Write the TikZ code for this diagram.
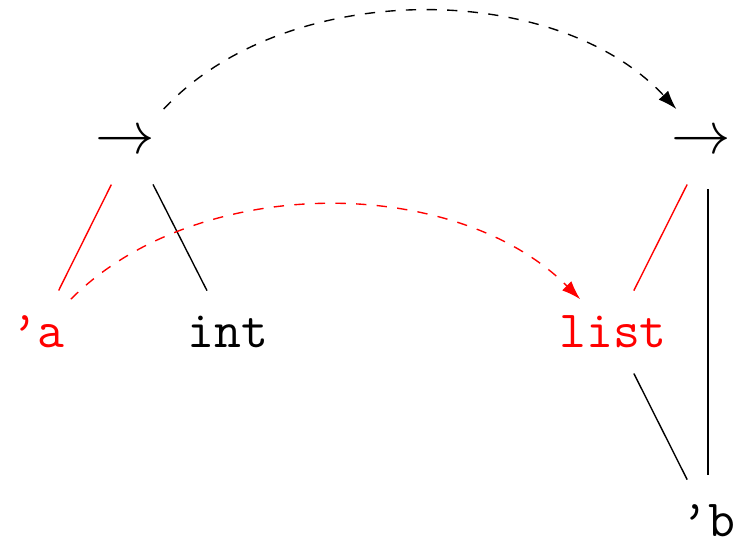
\documentclass[tikz,border=0pt]{standalone}
\usepackage{amsmath,amssymb}
\usepackage{xcolor}
\usepackage{tikz}
\usetikzlibrary{arrows.meta}
\tikzstyle{ty} = [font=\fontsize{15.2}{18}\selectfont\ttfamily, inner sep=0pt]
\tikzstyle{link} = [shorten <=13.5pt, shorten >=13.5pt]

\begin{document}
\begin{tikzpicture}[x=0.2909pt, y=-0.2909pt, >={Latex[length=5.5pt,width=3.8pt]}]
    \tikzstyle{arr} = [font=\fontsize{16.5}{18}\selectfont, inner sep=0pt]
    \tikzstyle{hit} = [red]
    \useasboundingbox (0,0) rectangle (734,541);
    \node[arr] (r1) at (132,143) {$\rightarrow$\kern4pt};
    \node[arr] (r2) at (708,143) {$\rightarrow$\kern4pt};
    \node[ty,hit] (a) at (38,332) {\textquoteright a};
    \node[ty] (int) at (228,332) {int};
    \node[ty,hit] (list) at (613,332) {list};
    \node[ty] (b) at (708,521) {\textquoteright b};
    \draw[link,hit] (r1.center) -- (a.center);
    \draw[link] (r1.center) -- (int.center);
    \draw[link,hit] (r2.center) -- (list.center);
    \draw[link] (r2.center) -- (b.center);
    \draw[link] (list.center) -- (b.center);
    \draw[link,dashed,->] (r1.center) to[bend left=47] (r2.center);
    \draw[link,dashed,->,hit] (a.center) to[bend left=45] (list.center);
\end{tikzpicture}
\end{document}
